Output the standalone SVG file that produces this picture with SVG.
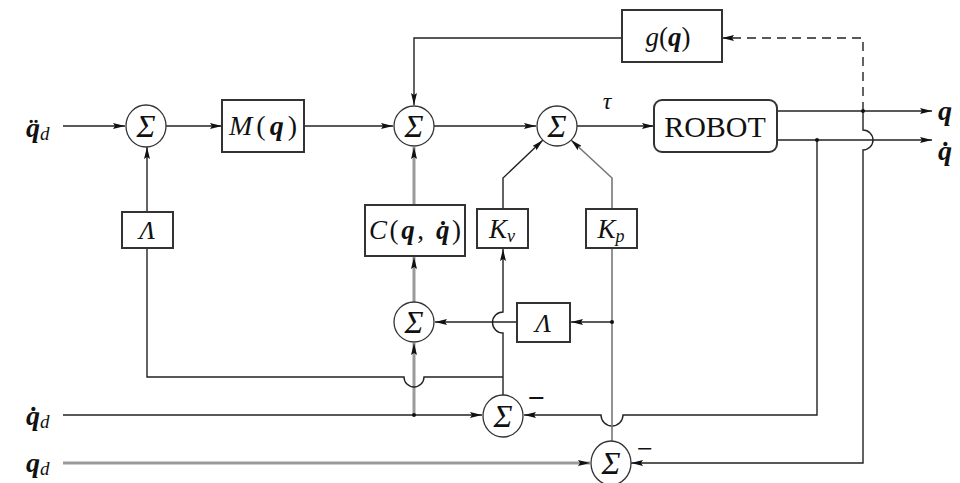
<svg xmlns="http://www.w3.org/2000/svg" width="960" height="483" viewBox="0 0 960 483">
<defs>
<marker id="ar" markerUnits="userSpaceOnUse" markerWidth="12" markerHeight="6" refX="12" refY="3" orient="auto">
<path d="M0,0 L12,3 L0,6 L2,3 z" fill="#111"/>
</marker>
<style>
.ln{stroke:#222;stroke-width:1.4;fill:none}
.lg{stroke:#9a9a9a;stroke-width:3;fill:none}
.lm{stroke:#777;stroke-width:1.6;fill:none}
.ds{stroke:#222;stroke-width:1.4;fill:none;stroke-dasharray:9 6}
.box{fill:#fff;stroke:#333;stroke-width:2}
.sum{fill:#fff;stroke:#333;stroke-width:1.3}
.t{fill:#111}
.it{font-style:italic}
.bi{font-style:italic;font-weight:bold}
.dot{fill:#111}
.sg{font-style:italic;font-size:32px}
</style>
</defs>
<rect width="960" height="483" fill="#fff"/>

<g id="connectors">
<path class="ln" d="M63,126 H125" marker-end="url(#ar)"/>
<path class="ln" d="M166,126 H222" marker-end="url(#ar)"/>
<path class="ln" d="M304,126 H393" marker-end="url(#ar)"/>
<path class="ln" d="M147,212 V147" marker-end="url(#ar)"/>
<path class="ln" d="M622,38 H414 V105" marker-end="url(#ar)"/>
<path class="ln" d="M434,126 H536" marker-end="url(#ar)"/>
<path class="ln" d="M577,126 H654" marker-end="url(#ar)"/>
<path class="ln" d="M777,111 H932" marker-end="url(#ar)"/>
<path class="ln" d="M777,140 H932" marker-end="url(#ar)"/>
<path class="ds" d="M863,111 V38 H722" marker-end="url(#ar)"/>
<path class="ln" d="M863,111 V130 A10,10 0 0 1 863,150 V463 H631" marker-end="url(#ar)"/>
<path class="ln" d="M817,140 V415 H623 A11,11 0 0 1 601,415 H524" marker-end="url(#ar)"/>
<path class="ln" d="M63,415 H482" marker-end="url(#ar)"/>
<path class="lg" d="M414,415 V343" marker-end="url(#ar)"/>
<path class="lg" d="M414,302 V257" marker-end="url(#ar)"/>
<path class="lg" d="M414,205 V147" marker-end="url(#ar)"/>
<path class="ln" d="M503,395 V333 A10.5,10.5 0 0 1 503,312 V249" marker-end="url(#ar)"/>
<path class="ln" d="M503,209 V178 L543,140" marker-end="url(#ar)"/>
<path class="lm" d="M612,209 V178 L571,140" marker-end="url(#ar)"/>
<path class="lm" d="M612,441 V248"/>
<path class="ln" d="M612,322 H571" marker-end="url(#ar)"/>
<path class="ln" d="M517,322 H435" marker-end="url(#ar)"/>
<path class="ln" d="M147,248 V377 H404 A10,10 0 0 0 424,377 H503"/>
<path class="lg" d="M63,463 H590" stroke-width="2.5" marker-end="url(#ar)"/>
<circle class="dot" cx="863" cy="111" r="2"/>
<circle class="dot" cx="817" cy="140" r="2"/>
<circle class="dot" cx="414" cy="415" r="2"/>
<circle class="dot" cx="612" cy="322" r="2"/>
</g>

<g font-family="'Liberation Serif', 'DejaVu Serif', 'Times New Roman', serif">
<g id="sum1"><ellipse class="sum" cx="146" cy="126" rx="20" ry="21"/><text class="t sg" x="146" y="137" text-anchor="middle">Σ</text></g>
<g id="sum2"><circle class="sum" cx="414" cy="126" r="20"/><text class="t sg" x="414" y="137" text-anchor="middle">Σ</text></g>
<g id="sum3"><circle class="sum" cx="557" cy="126" r="20"/><text class="t sg" x="557" y="137" text-anchor="middle">Σ</text></g>
<g id="sum4"><circle class="sum" cx="414" cy="322" r="20"/><text class="t sg" x="414" y="333" text-anchor="middle">Σ</text></g>
<g id="sum5"><ellipse class="sum" cx="503" cy="416" rx="20" ry="21"/><text class="t sg" x="503" y="427" text-anchor="middle">Σ</text><text class="t" x="536" y="408" font-size="30" font-weight="bold" text-anchor="middle">−</text></g>
<g id="sum6"><ellipse class="sum" cx="611" cy="463" rx="20" ry="22"/><text class="t sg" x="611" y="474" text-anchor="middle">Σ</text><text class="t" x="645" y="458" font-size="28" text-anchor="middle">−</text></g>

<g id="M"><rect class="box" x="222" y="100" width="82" height="52"/><text class="t" x="263" y="135" font-size="28" text-anchor="middle" textLength="68" lengthAdjust="spacing"><tspan class="it">M</tspan>(<tspan class="bi">q</tspan>)</text></g>
<g id="g"><rect class="box" x="622" y="10" width="100" height="52"/><text class="t" x="668" y="46" font-size="27" text-anchor="middle"><tspan class="it">g</tspan>(<tspan class="bi">q</tspan>)</text></g>
<g id="robot"><rect class="box" x="654" y="100" width="123" height="52" rx="8"/><text class="t" x="715" y="137" font-size="30" text-anchor="middle">ROBOT</text></g>
<g id="lambda1"><rect class="box" x="122" y="212" width="51" height="36"/><text class="t it" x="147" y="239" font-size="26" text-anchor="middle">Λ</text></g>
<g id="C"><rect class="box" x="365" y="205" width="100" height="51"/><text class="t" x="415" y="239" font-size="27" text-anchor="middle" textLength="92" lengthAdjust="spacing"><tspan class="it">C</tspan>(<tspan class="bi">q</tspan>, <tspan class="bi">q̇</tspan>)</text></g>
<g id="Kv"><rect class="box" x="477" y="209" width="51" height="39"/><text class="t" x="502" y="238" font-size="27" text-anchor="middle"><tspan class="it">K</tspan><tspan class="it" font-size="18" dy="4">v</tspan></text></g>
<g id="Kp"><rect class="box" x="586" y="209" width="51" height="39"/><text class="t" x="611" y="238" font-size="27" text-anchor="middle"><tspan class="it">K</tspan><tspan class="it" font-size="18" dy="4">p</tspan></text></g>
<g id="lambda2"><rect class="box" x="517" y="303" width="53" height="39"/><text class="t it" x="543" y="332" font-size="26" text-anchor="middle">Λ</text></g>

<g id="labels">
<text class="t it" x="607" y="109" font-size="24" text-anchor="middle">τ</text>
<text class="t" x="26" y="137" font-size="28"><tspan class="bi">q̈</tspan><tspan class="it" font-size="19" dy="3">d</tspan></text>
<text class="t" x="26" y="425" font-size="28"><tspan class="bi">q̇</tspan><tspan class="it" font-size="19" dy="3">d</tspan></text>
<text class="t" x="26" y="472" font-size="28"><tspan class="bi">q</tspan><tspan class="it" font-size="19" dy="3">d</tspan></text>
<text class="t bi" x="938" y="120" font-size="28">q</text>
<text class="t bi" x="938" y="160" font-size="28">q̇</text>
</g>
</g>
</svg>
